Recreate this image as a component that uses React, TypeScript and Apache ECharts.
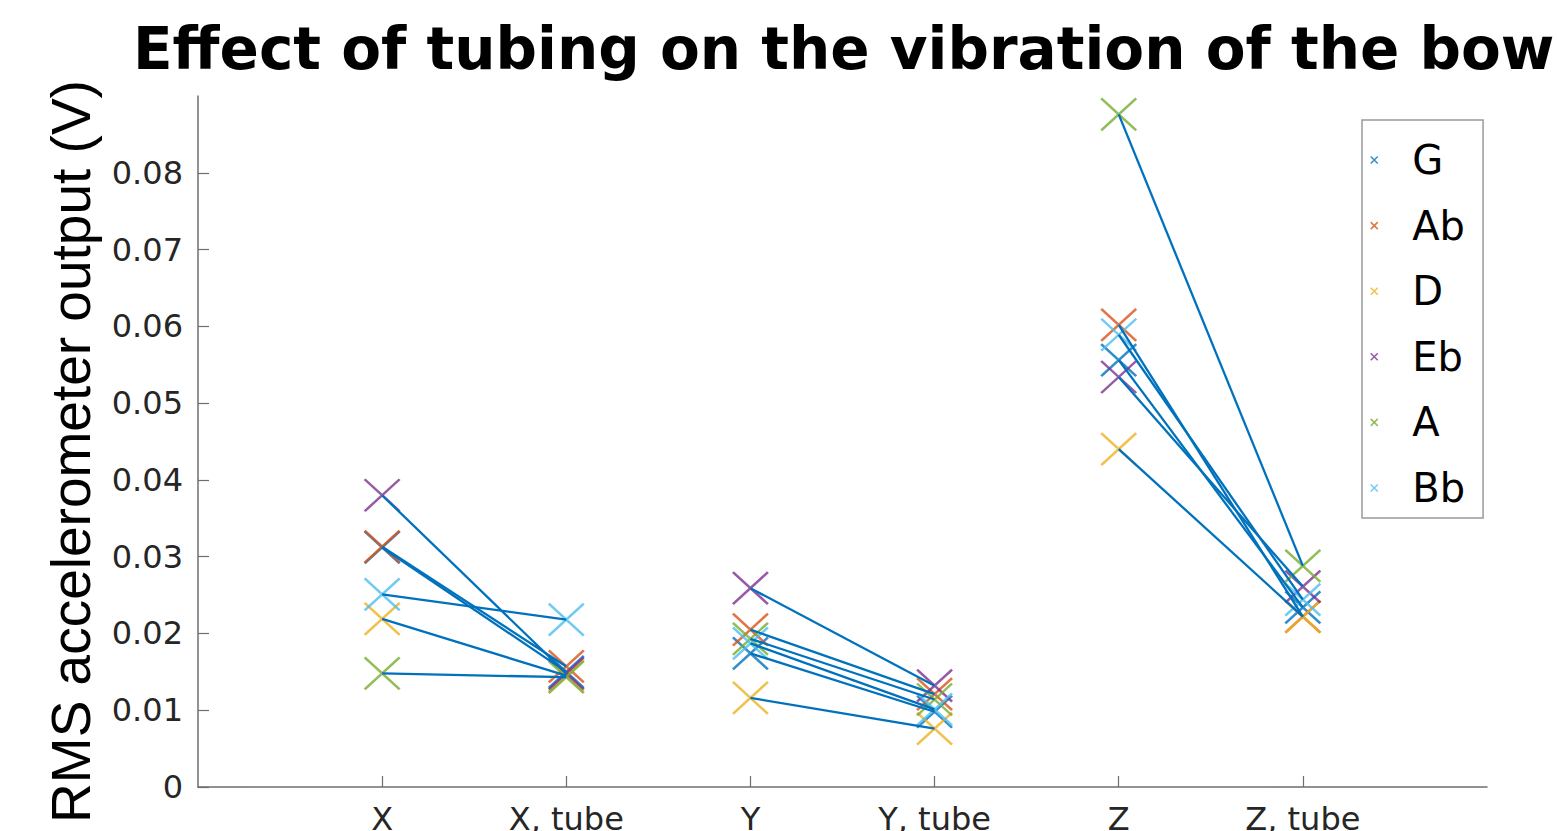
import React, { useEffect, useRef } from "react";
import * as echarts from "echarts";

const categories = ["X", "X, tube", "Y", "Y, tube", "Z", "Z, tube"];
const notes = ["G", "Ab", "D", "Eb", "A", "Bb"];
const noteColors = ["#0072BD", "#D95319", "#EDB120", "#7E2F8E", "#77AC30", "#4DBEEE"];
const lineColor = "#0072BD";

// values per note, in category order
const valuesG = [0.0312, 0.0150, 0.0174, 0.0098, 0.0556, 0.0234];
const valuesAb = [0.0313, 0.0157, 0.0205, 0.0121, 0.0602, 0.0222];
const valuesD = [0.0219, 0.0145, 0.0116, 0.0076, 0.0440, 0.0222];
const valuesEb = [0.0380, 0.0148, 0.0259, 0.0132, 0.0534, 0.0261];
const valuesA = [0.0148, 0.0143, 0.0193, 0.0114, 0.0876, 0.0288];
const valuesBb = [0.0251, 0.0218, 0.0187, 0.0101, 0.0589, 0.0244];
const noteValues = [valuesG, valuesAb, valuesD, valuesEb, valuesA, valuesBb];

const yTicks = [0, 0.01, 0.02, 0.03, 0.04, 0.05, 0.06, 0.07, 0.08];
const xTicks = [1, 2, 3, 4, 5, 6];

const crossPath = "path://M0,0L10,10M10,0L0,10";

export default function App() {
  const ref = useRef<HTMLDivElement>(null);
  useEffect(() => {
    if (!ref.current) return;
    const chart = echarts.init(ref.current, null, { renderer: "svg" });
    const series: any[] = [];
    notes.forEach((name, i) => {
      const vals = noteValues[i];
      series.push({
        type: "scatter",
        name,
        z: 2,
        symbol: crossPath,
        symbolSize: [35, 32],
        itemStyle: { color: noteColors[i], borderColor: noteColors[i], borderWidth: 2.5 },
        emphasis: { disabled: true },
        data: vals.map((v, j) => [j + 1, v]),
      });
    });
    notes.forEach((name, i) => {
      const vals = noteValues[i];
      for (let p = 0; p < 3; p++) {
        series.push({
          type: "line",
          name: name + "-line" + p,
          z: 3,
          showSymbol: false,
          symbol: "none",
          lineStyle: { color: lineColor, width: 2.3 },
          emphasis: { disabled: true },
          data: [
            [2 * p + 1, vals[2 * p]],
            [2 * p + 2, vals[2 * p + 1]],
          ],
        });
      }
    });
    chart.setOption({
      animation: false,
      backgroundColor: "#ffffff",
      title: {
        text: "Effect of tubing on the vibration of the bow",
        left: 133,
        top: 20,
        padding: 0,
        textStyle: {
          fontFamily: "DejaVu Sans",
          fontWeight: "bold",
          fontSize: 58,
          color: "#000000",
        },
      },
      legend: {
        data: notes,
        orient: "vertical",
        left: 1362,
        top: 120,
        padding: [20, 18, 10, 8],
        itemGap: 25.6,
        itemWidth: 66,
        itemHeight: 7,
        icon: crossPath,
        borderColor: "#9a9a9a",
        borderWidth: 1.5,
        backgroundColor: "#ffffff",
        itemStyle: { borderWidth: 1.5 },
        textStyle: {
          fontFamily: "DejaVu Sans",
          fontSize: 40,
          lineHeight: 40,
          color: "#000000",
          padding: 0,
        },
        selectedMode: false,
      },
      grid: {
        left: 198,
        right: 70,
        top: 96,
        bottom: 44,
        containLabel: false,
        outerBoundsMode: "none",
      },
      xAxis: {
        type: "value",
        min: 0,
        max: 7,
        interval: 1,
        axisLine: { show: true, lineStyle: { color: "#6e6e6e", width: 1.5 } },
        axisTick: { show: true, inside: true, length: 11, customValues: xTicks, lineStyle: { color: "#6e6e6e", width: 1.2 } },
        splitLine: { show: false },
        axisLabel: {
          customValues: xTicks,
          margin: 16,
          fontFamily: "DejaVu Sans",
          fontSize: 32,
          color: "#262626",
          formatter: (v: number) => categories[Math.round(v) - 1] ?? "",
        },
      },
      yAxis: {
        type: "value",
        min: 0,
        max: 0.09,
        interval: 0.01,
        name: "RMS accelerometer output (V)",
        nameLocation: "middle",
        nameGap: 100,
        nameTextStyle: {
          fontFamily: "Liberation Sans",
          fontSize: 55,
          color: "#000000",
          padding: [0, 20, 0, 0],
        },
        axisLine: { show: true, lineStyle: { color: "#6e6e6e", width: 1.5 } },
        axisTick: { show: true, inside: true, length: 11, customValues: yTicks, lineStyle: { color: "#6e6e6e", width: 1.2 } },
        splitLine: { show: false },
        axisLabel: {
          customValues: yTicks,
          margin: 15,
          fontFamily: "DejaVu Sans",
          fontSize: 32,
          color: "#262626",
          formatter: (v: number) => (v === 0 ? "0" : v.toFixed(2)),
        },
      },
      series,
    });
    return () => chart.dispose();
  }, []);
  return (
    <div
      ref={ref}
      style={{ position: "fixed", left: 0, top: 0, width: 1557, height: 831, background: "#fff" }}
    />
  );
}
